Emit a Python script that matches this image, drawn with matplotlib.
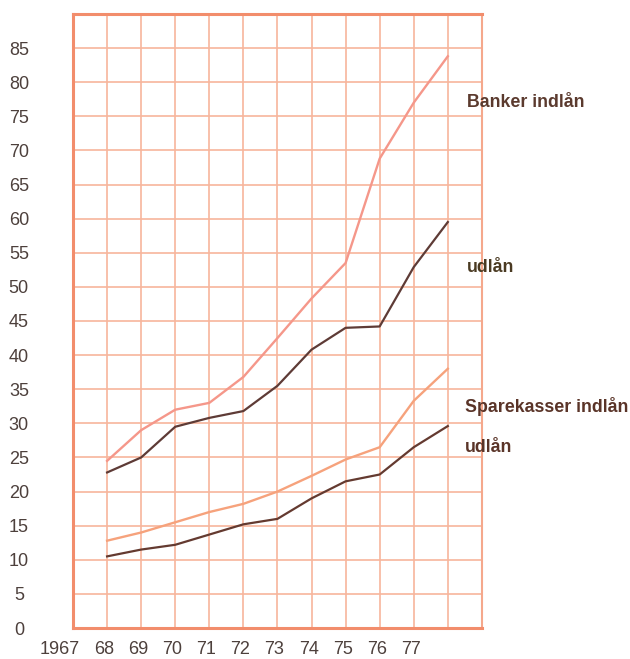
import matplotlib
matplotlib.use("agg")
import matplotlib.pyplot as plt
import matplotlib.transforms as mtransforms
import numpy as np

plt.rcParams["font.family"] = ["Liberation Sans", "DejaVu Sans"]

# Data (index, arbitrary units)
years = [1968, 1969, 1970, 1971, 1972, 1973, 1974, 1975, 1976, 1977, 1978]
banker_indlan = [24.5, 29.0, 32.0, 33.0, 36.8, 42.5, 48.3, 53.5, 68.8, 77.0, 83.8]
banker_udlan = [22.8, 25.0, 29.5, 30.8, 31.8, 35.5, 40.8, 44.0, 44.2, 52.9, 59.5]
spare_indlan = [12.8, 14.0, 15.5, 17.0, 18.2, 20.0, 22.3, 24.7, 26.5, 33.3, 38.0]
spare_udlan = [10.5, 11.5, 12.2, 13.7, 15.2, 16.0, 19.0, 21.5, 22.5, 26.5, 29.6]

x_ticks = [1967, 1968, 1969, 1970, 1971, 1972, 1973, 1974, 1975, 1976, 1977]
x_labels = ["1967", "68", "69", "70", "71", "72", "73", "74", "75", "76", "77"]
y_ticks = list(range(0, 90, 5))

grid_col = "#f7b59c"
frame_col = "#f28d6c"
text_col = "#4d403c"

fig = plt.figure(figsize=(6.30, 6.59), dpi=100)
ax = fig.add_axes([0.1159, 0.047, 0.649, 0.9318])
ax.set_xlim(1967, 1979)
ax.set_ylim(0, 90)

# grid
ax.set_xticks(np.arange(1967, 1980), minor=False)
ax.set_yticks(np.arange(0, 95, 5))
ax.grid(True, color=grid_col, lw=1.2)
ax.set_axisbelow(True)

for side in ["left", "top", "bottom"]:
    ax.spines[side].set_color(frame_col)
    ax.spines[side].set_linewidth(2.2)
ax.spines["right"].set_color("#f5a88c")
ax.spines["right"].set_linewidth(1.5)

ax.plot(years, banker_indlan, color="#f5978a", lw=1.7)
ax.plot(years, banker_udlan, color="#5e3b36", lw=1.6)
ax.plot(years, spare_indlan, color="#f6a27c", lw=1.7)
ax.plot(years, spare_udlan, color="#643a30", lw=1.6)

# tick labels: only some ticks are labelled, drawn via the axes
all_x = list(np.arange(1967, 1980))
ax.set_xticks(all_x)
ax.set_xticklabels([x_labels[x_ticks.index(v)] if v in x_ticks else "" for v in all_x])
ax.set_yticks(list(np.arange(0, 95, 5)))
ax.set_yticklabels([str(v) if v in y_ticks else "" for v in np.arange(0, 95, 5)])
ax.tick_params(length=0, labelsize=13, labelcolor=text_col)
ax.tick_params(axis="y", pad=39)
ax.tick_params(axis="x", pad=9)
for lab in ax.get_yticklabels():
    lab.set_horizontalalignment("center")
shift = mtransforms.ScaledTranslation(7 / 100, 0, fig.dpi_scale_trans)
for lab in ax.get_xticklabels():
    lab.set_horizontalalignment("right")
    lab.set_transform(lab.get_transform() + shift)

lab_kw = dict(fontsize=12.8, fontweight="bold", va="center", ha="left",
              clip_on=False)
ax.text(1978.57, 77.0, "Banker indlån", color="#5b3a2e", **lab_kw)
ax.text(1978.57, 52.8, "udlån", color="#4a3a22", **lab_kw)
ax.text(1978.5, 32.4, "Sparekasser indlån", color="#5a3428", **lab_kw)
ax.text(1978.5, 26.4, "udlån", color="#5a3428", **lab_kw)

fig.savefig("out.png", dpi=100)
